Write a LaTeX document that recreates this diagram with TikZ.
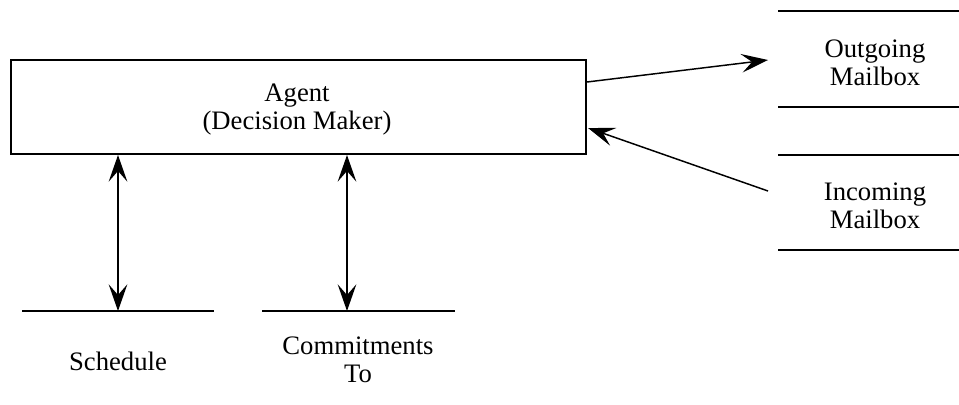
\documentclass[tikz,border=0pt]{standalone}
\usepackage{fontspec}
\setmainfont{Liberation Serif}
\usetikzlibrary{arrows.meta}
\begin{document}
\begin{tikzpicture}[x=0.75pt,y=-0.75pt,
  every node/.style={font=\fontsize{20}{21}\selectfont, inner sep=0pt, align=center},
  store/.style={line width=1.5pt},
  head/.tip={Stealth[length=20pt,width=14pt,inset=8pt]},
  link/.style={line width=1.1pt, -head},
  duplex/.style={line width=1.1pt, head-head}]
\useasboundingbox (0,0) rectangle (959,404);

% agent box
\node[draw, line width=1.5pt, minimum width=575*0.75pt, minimum height=94*0.75pt] (agent) at (298.5,107) {};
\node (agenttext) at (297,110) {Agent\\(Decision Maker)};

% mailboxes (two-line data stores)
\coordinate (outA) at (778,11);  \coordinate (outB) at (959,11);
\coordinate (outC) at (778,107); \coordinate (outD) at (959,107);
\coordinate (inA) at (778,155);  \coordinate (inB) at (959,155);
\coordinate (inC) at (778,250);  \coordinate (inD) at (959,250);
\draw[store] (outA) -- (outB);
\draw[store] (outC) -- (outD);
\draw[store] (inA) -- (inB);
\draw[store] (inC) -- (inD);
\node (outmail) at (875,63) {Outgoing\\Mailbox};
\node (inmail) at (875,206) {Incoming\\Mailbox};

% local stores
\coordinate (schA) at (22,311);  \coordinate (schB) at (214,311);
\coordinate (comA) at (262,311); \coordinate (comB) at (455,311);
\draw[store] (schA) -- (schB);
\draw[store] (comA) -- (comB);
\node (schedule) at (118,361) {Schedule};
\node (commit) at (358,360) {Commitments\\To};

% connectors
\coordinate (outTip) at (768,60);
\coordinate (inTail) at (768,191);
\draw[link] (agent.east |- 0,82) -- (outTip);
\draw[link] (inTail) -- (588,128);
\draw[duplex] (118,155) -- (118,311);
\draw[duplex] (347,155) -- (347,311);
\end{tikzpicture}
\end{document}
